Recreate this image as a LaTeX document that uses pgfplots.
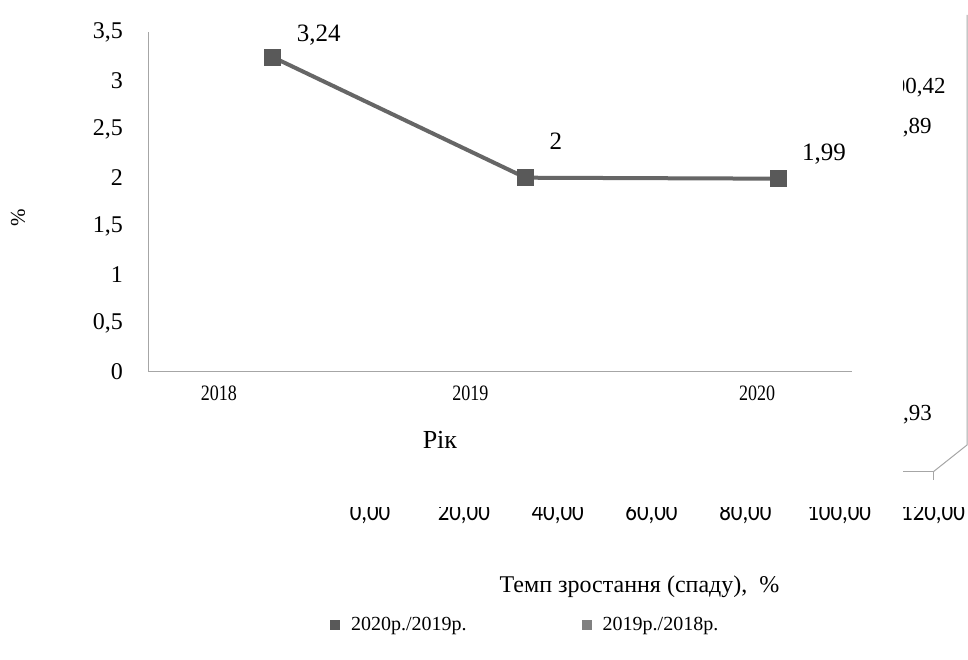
\documentclass[border=0pt]{standalone}
\usepackage{fontspec}
\setmainfont{Liberation Serif}
\newfontfamily\barfont[FakeStretch=0.88]{Carlito}
\newfontfamily\narrowfont[FakeStretch=0.82]{Liberation Serif}
\usepackage{pgfplots}
\pgfplotsset{compat=1.18}

\definecolor{axisgray}{HTML}{A6A6A6}
\definecolor{linegray}{HTML}{666666}
\definecolor{markgray}{HTML}{595959}
\definecolor{seriesdark}{HTML}{595959}
\definecolor{serieslight}{HTML}{808080}

% share of the indicator by year, % (dy = vertical offset of the value label)
\pgfplotstableread{
x y dy
0 3.24 22
1 2 36
2 1.99 25
}\ratedata

\begin{document}
\begin{tikzpicture}[x=1bp,y=1bp]
\path[use as bounding box] (0,0) rectangle (968,660);

% growth rate chart (behind)
\begin{axis}[
  at={(370bp,188bp)}, anchor=south west,
  scale only axis, width=563bp, height=457bp,
  xmin=0, xmax=120, ymin=0, ymax=10,
  hide y axis,
  axis x line*=bottom,
  axis line style={axisgray, line width=1bp, -},
  xtick={0,20,...,120},
  tick align=outside, major tick length=8bp,
  tick style={axisgray, line width=1bp},
  clip=false,
  /pgf/number format/fixed, /pgf/number format/fixed zerofill,
  /pgf/number format/precision=2, /pgf/number format/use comma,
  /pgf/number format/assume math mode=true,
  xticklabel style={font=\barfont\fontsize{26bp}{26bp}\selectfont, anchor=base, yshift=-41bp},
  xlabel={Темп зростання (спаду), \ \%},
  xlabel style={at={(rel axis cs:0.5,0)}, anchor=base, xshift=-12bp, yshift=-121bp,
    font=\fontsize{24bp}{24bp}\selectfont},
  legend style={at={(rel axis cs:0,0)}, anchor=west, xshift=-43bp, yshift=-153bp,
    draw=none, fill=none, legend columns=2,
    font=\fontsize{20bp}{20bp}\selectfont,
    /tikz/every odd column/.append style={column sep=9bp},
    /tikz/every even column/.append style={column sep=113bp}},
  legend image code/.code={\fill[#1] (0bp,-5bp) rectangle (10bp,5bp);},
  every node near coord/.append style={anchor=west, inner sep=0pt, xshift=41bp,
    text=black, font=\fontsize{23bp}{23bp}\selectfont},
]
\addplot[xbar, bar shift=0pt, bar width=14bp, fill=seriesdark, draw=none,
  point meta=x, nodes near coords] coordinates {(100.42,8.4) (99.93,1.25)};
\addplot[xbar, bar shift=0pt, bar width=14bp, fill=serieslight, draw=none,
  point meta=x, nodes near coords] coordinates {(99.89,7.53)};
\legend{2020р./2019р., 2019р./2018р.}
\draw[axisgray, line width=1bp] (rel axis cs:1,0) -- ++(34bp,27bp) -- ++(0bp,430bp);
\end{axis}

% chart area of the yearly line chart
\fill[white] (0,153) rectangle (968,172);
\fill[white] (0,172) rectangle (903,660);

\begin{axis}[
  at={(148bp,288bp)}, anchor=south west,
  scale only axis, width=704bp, height=340bp,
  xmin=-0.495, xmax=2.293, ymin=0, ymax=3.5,
  axis x line=bottom, axis y line=left,
  axis line style={axisgray, line width=1bp, -},
  major tick length=0pt,
  xtick={-0.214,0.782,1.917}, xticklabels={2018,2019,2020},
  ytick={0,0.5,...,3.5},
  /pgf/number format/use comma, /pgf/number format/assume math mode=true,
  xticklabel style={font=\narrowfont\fontsize{22bp}{22bp}\selectfont, anchor=center, yshift=-21bp},
  yticklabel style={font=\fontsize{24bp}{24bp}\selectfont, anchor=east, inner sep=0pt, xshift=-25bp},
  ylabel={\%},
  ylabel style={at={(axis cs:-1.01,1.585)}, anchor=center, font=\fontsize{21bp}{21bp}\selectfont},
  xlabel={Рік},
  xlabel style={at={(axis cs:0.661,-0.70)}, anchor=center, font=\fontsize{26bp}{26bp}\selectfont},
  clip=false,
  visualization depends on={\thisrow{dy} \as \dy},
  every node near coord/.append style={anchor=west, inner sep=0pt, xshift=24bp, yshift=\dy bp,
    text=black, font=\fontsize{25bp}{25bp}\selectfont},
]
\addplot[linegray, line width=4bp, mark=square*, mark size=8bp,
  mark options={fill=markgray, draw=markgray, line width=0pt},
  nodes near coords, point meta=y] table[x=x, y=y] \ratedata;
\end{axis}
\end{tikzpicture}
\end{document}
